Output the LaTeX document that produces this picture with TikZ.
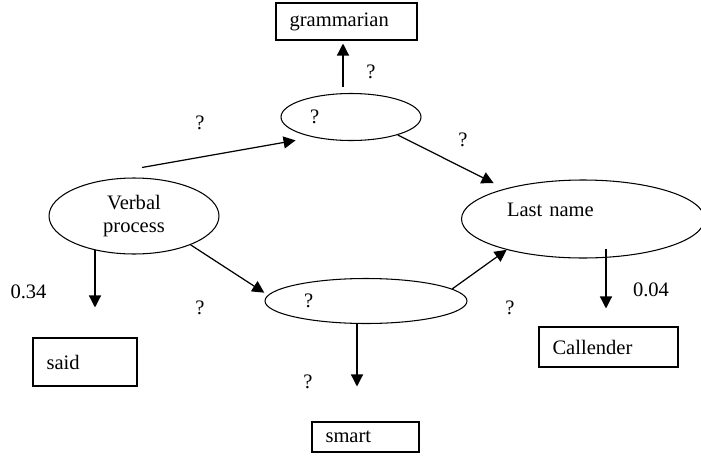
\documentclass[tikz,border=0pt]{standalone}
\usepackage{fontspec}
\setmainfont{Liberation Serif}
\usepackage{tikz}
\usetikzlibrary{shapes.geometric}
\usetikzlibrary{arrows.meta}
\tikzstyle{blob} = [ellipse, draw, line width=0.6pt, inner sep=0pt]
\tikzstyle{wordbox} = [rectangle, draw, line width=0.6pt, align=left,
    inner xsep=0.27cm, inner ysep=0.05cm]
\tikzstyle{line} = [draw, line width=0.7pt, -{Triangle[length=0.24cm,width=0.24cm]}]
\tikzstyle{prob} = [inner sep=0pt]

\begin{document}
\begin{tikzpicture}[x=0.02cm,y=-0.02cm,font=\fontsize{11.7}{13.5}\selectfont]
    \useasboundingbox (0,0) rectangle (701,457);
    % Place nodes
    \node [blob,minimum width=3.4cm,minimum height=1.52cm,align=center] (verbal) at (134,216) {Verbal\\process};
    \node [blob,minimum width=2.8cm,minimum height=0.94cm,text width=1.64cm,align=left] (topq) at (351,117) {?};
    \node [blob,minimum width=4.04cm,minimum height=0.9cm,text width=2.48cm,align=left] (botq) at (366,301) {?};
    \node [blob,minimum width=4.86cm,minimum height=1.56cm,text width=3.04cm,align=left,
        text height=0.2cm,text depth=0.3cm] (lastname) at (583,219) {Last name};

    \node [wordbox,text width=2.28cm,minimum height=0.74cm] (grammar) at (346.5,21.5) {grammarian};
    \node [wordbox,text width=1.54cm,minimum height=0.96cm] (said) at (85,362) {said};
    \node [wordbox,text width=1.6cm,minimum height=0.6cm] (smart) at (365.5,437) {smart};
    \node [wordbox,text width=2.24cm,minimum height=0.8cm] (callender) at (608.5,347) {Callender};

    % probabilities
    \node [prob] (q1) at (200,123) {?};
    \node [prob] (q2) at (371,72) {?};
    \node [prob] (q3) at (463,140) {?};
    \node [prob] (q4) at (200,308) {?};
    \node [prob] (q5) at (510,308) {?};
    \node [prob] (q6) at (308,382) {?};
    \node [prob] (p1) at (28.5,292) {0.34};
    \node [prob] (p2) at (651,290) {0.04};

    % Draw edges
    \coordinate (v1) at ([shift={(8,-10)}]verbal.north);
    \path [line] (v1) -- ([shift={(-10,5)}]topq.202);
    \coordinate (t1) at ([shift={(-8,-6)}]topq.north);
    \path [line,shorten >=0.06cm] (t1) -- (t1 |- grammar.south);
    \path [line] (topq.-21) -- ([shift={(-13,-5)}]lastname.158);
    \path [line] (verbal.-27) -- ([shift={(-7,0)}]botq.175);
    \path [line] (botq.8) -- (lastname.202);
    \coordinate (v2) at ([shift={(-39,-5)}]verbal.south);
    \path [line,shorten >=0.6cm] (v2) -- (v2 |- said.north);
    \coordinate (b1) at ([shift={(-9,-1)}]botq.south);
    \path [line,shorten >=0.7cm] (b1) -- (b1 |- smart.north);
    \coordinate (l1) at ([shift={(23,-10)}]lastname.south);
    \path [line,shorten >=0.36cm] (l1) -- (l1 |- callender.north);
\end{tikzpicture}
\end{document}
